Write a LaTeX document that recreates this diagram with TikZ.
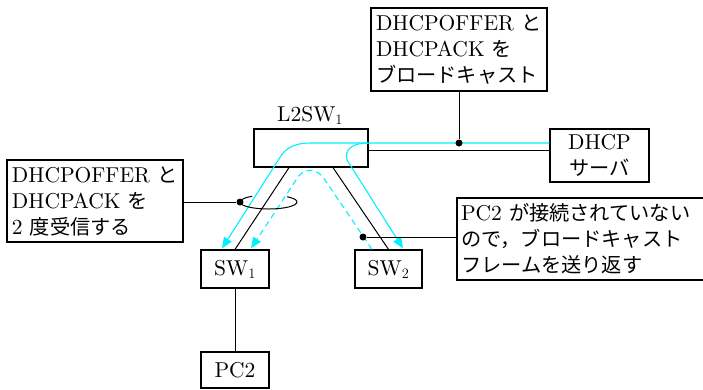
\documentclass[tikz,border=0pt]{standalone}
\usepackage{fontspec}
\setmainfont{lmroman10-regular.otf}
\newfontfamily\jp[Scale=0.94]{Noto Sans CJK JP}
\usetikzlibrary{arrows.meta,calc}
\definecolor{cyn}{RGB}{0,240,255}
\begin{document}
\begin{tikzpicture}[x=1pt,y=-1pt,
  txt/.style={font=\fontsize{21.5}{26}\selectfont},
  box/.style={txt,draw,line width=1.2pt,inner sep=0pt},
  wire/.style={line width=1pt},
  cy/.style={cyn,line width=1.1pt},
  cyarrow/.style={cy,-{Triangle[length=11pt,width=9pt]}},
  dot/.style={circle,fill,inner sep=0pt,minimum size=7pt}]
\useasboundingbox (0,0) rectangle (703,389);
\clip (0,0) rectangle (703,389);

% nodes
\node[box,minimum width=114,minimum height=38] (l2sw) at (311,148) {};
\node[txt] (l2swlabel) at (310,115) {L2SW$_1$};
\node[box,minimum width=99,minimum height=53,align=center] (srv) at (599.5,155.5) {DHCP\\{\jp サーバ}};
\node[box,text width=166,inner xsep=5,minimum height=83,align=left] (top) at (459,49.5)
  {DHCPOFFER {\jp と}\\DHCPACK {\jp を}\\{\jp ブロードキャスト}};
\node[box,text width=166,inner xsep=5,minimum height=82,align=left] (lbox) at (95,201)
  {DHCPOFFER {\jp と}\\DHCPACK {\jp を}\\2 {\jp 度受信する}};
\node[box,text width=252,inner xsep=4,minimum height=82,align=left] (rbox) at (587,239)
  {PC2 {\jp が接続されていない}\\{\jp ので，ブロードキャスト}\\{\jp フレームを送り返す}};
\node[box,minimum width=68,minimum height=38] (sw1) at (235,269) {SW$_1$};
\node[box,minimum width=67,minimum height=38] (sw2) at (388.5,269) {SW$_2$};
\node[box,minimum width=68,minimum height=36] (pc2) at (235,370) {PC2};

% wires
\draw[wire] ($(l2sw.east)+(0,2)$) -- ($(srv.west)+(0,-5.5)$);
\draw[wire] ($(l2sw.south)+(-22,0)$) -- (sw1.north);
\draw[wire] ($(l2sw.south)+(22,0)$) -- (sw2.north);
\draw[wire] (sw1.south) -- (pc2.north);

% cyan flows
\draw[cyarrow] ($(srv.west)+(0,-12.5)$) -- (310,143) .. controls (297,143) and (287,147) .. (281.5,155) -- ($(sw1.north)+(-13,-1)$);
\draw[cyarrow] (368,143) .. controls (352,143) and (344,150) .. (347,160) -- ($(sw2.north)+(14.5,-1)$);
\draw[cyarrow,dash pattern=on 6pt off 4pt] ($(sw2.north)+(-16.5,0)$) -- (325,180) .. controls (317,167) and (303,167) .. (296,180) -- ($(sw1.north)+(16,-1)$);

% callouts
\node[dot] (d1) at (459,143) {};
\draw[wire] (d1) -- (top.south);
\node[dot] (d2) at (240,202) {};
\draw[wire] (lbox.east |- d2) -- (d2);
\draw[wire] (252.15,196.27) arc[start angle=235,end angle=-49,x radius=28.5,y radius=7];
\node[dot] (d3) at (363,237) {};
\draw[wire] (d3) -- (rbox.west |- d3);
\end{tikzpicture}
\end{document}
